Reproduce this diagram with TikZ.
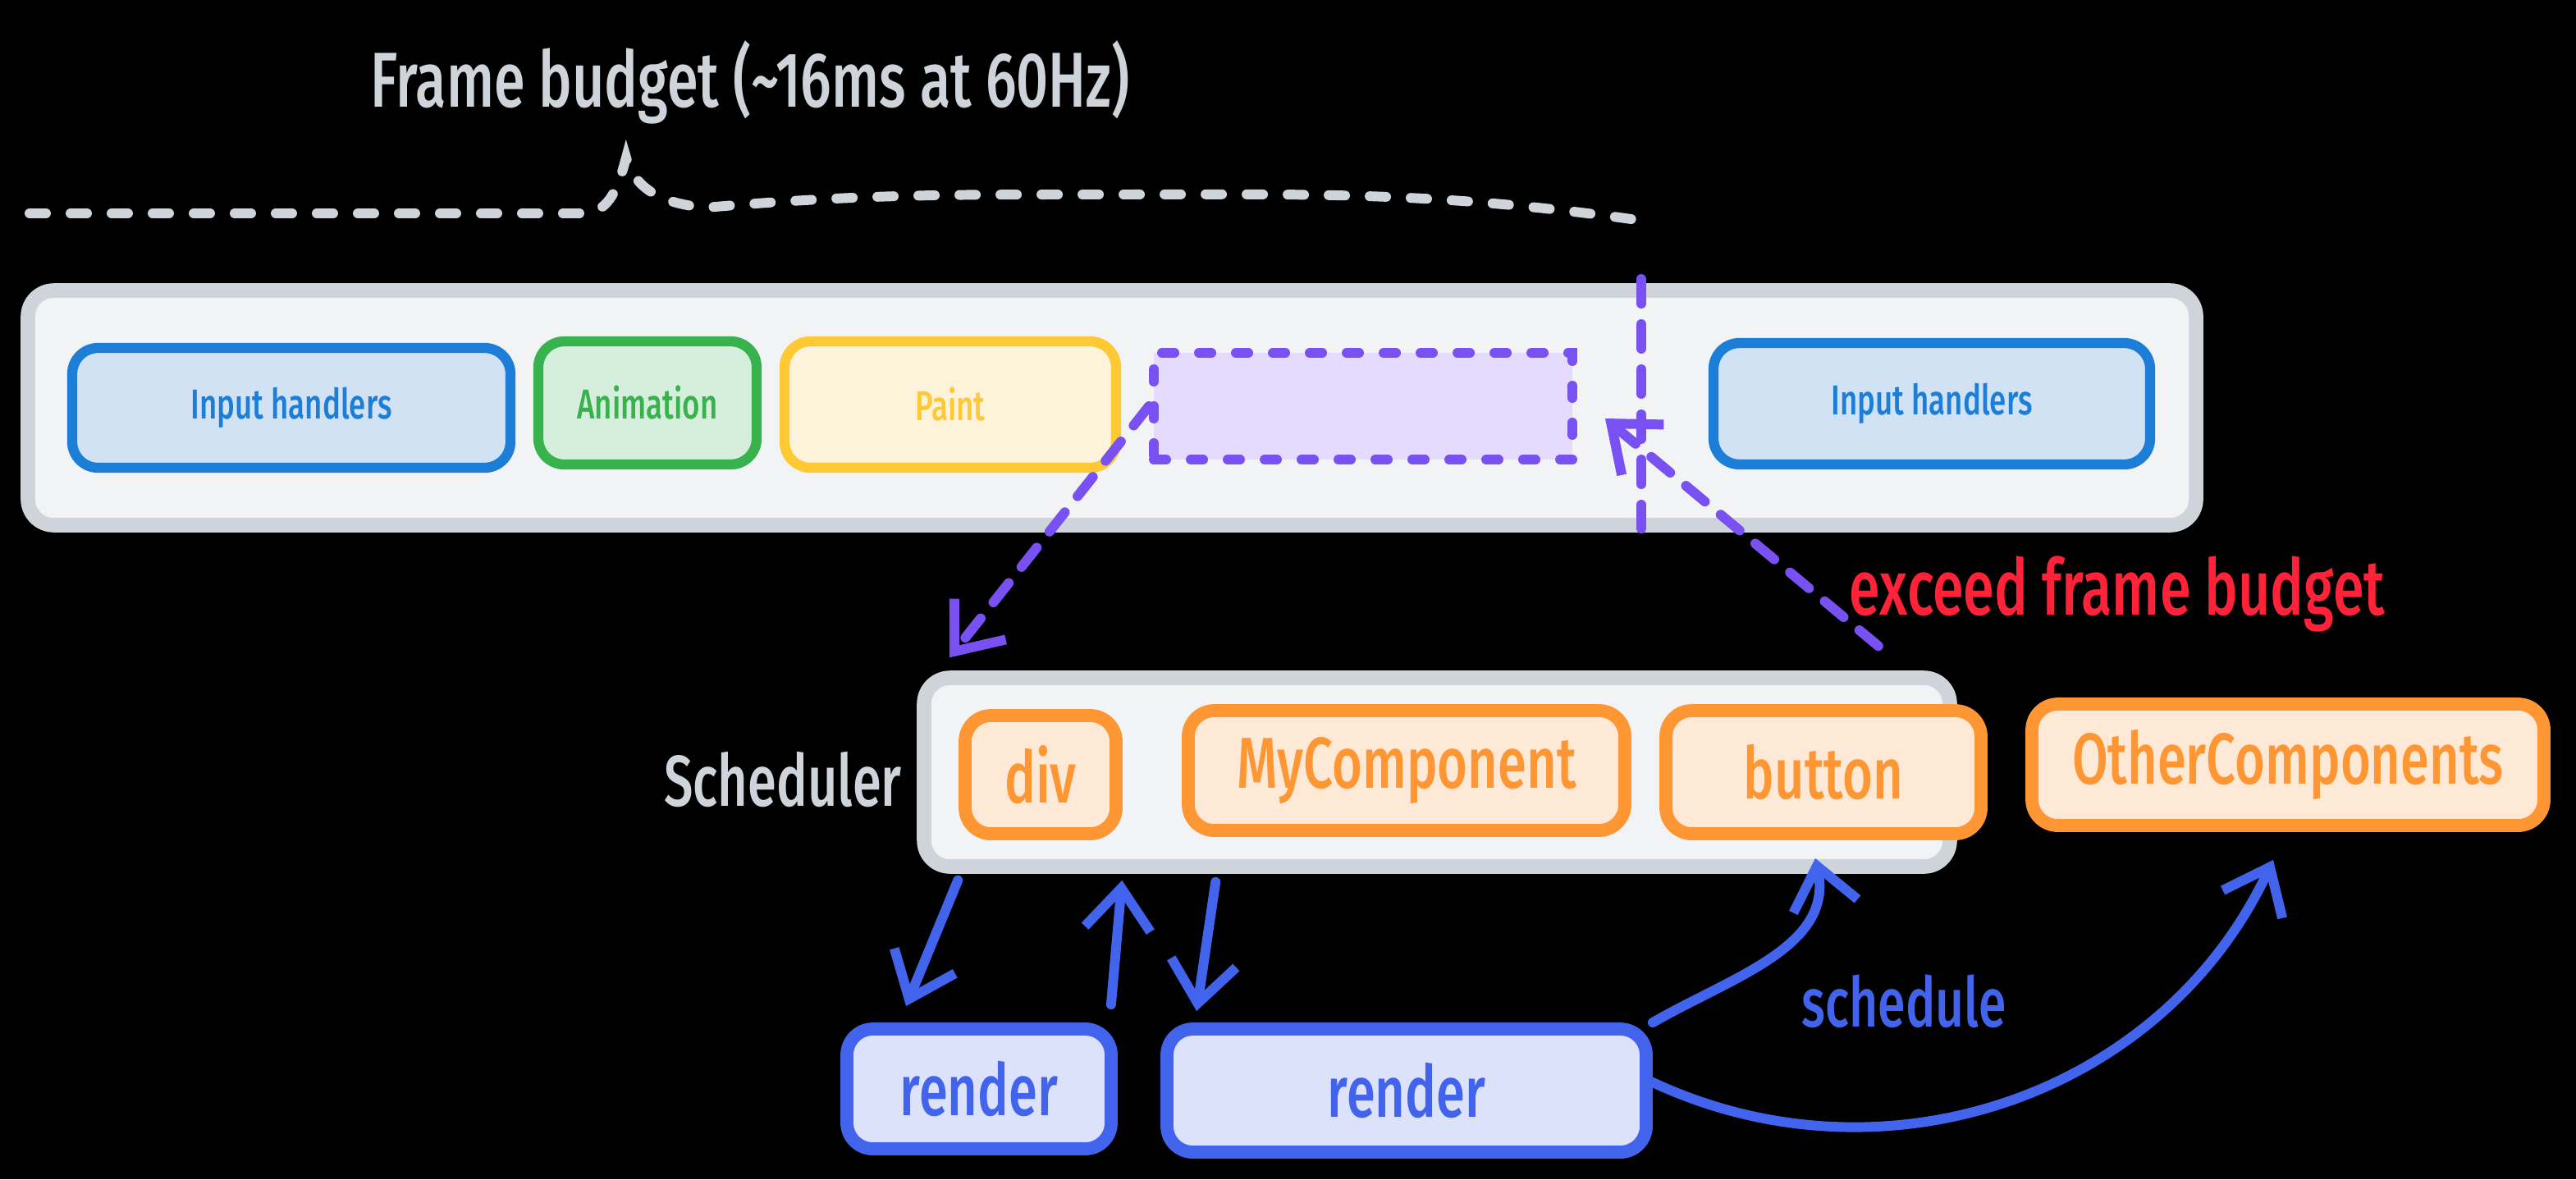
\documentclass[tikz,border=0pt]{standalone}
\usepackage{fontspec}
\setmainfont{Fira Sans Medium}[FakeStretch=0.72]
\usetikzlibrary{arrows.meta}
\definecolor{grayline}{HTML}{CED4DA}
\definecolor{grayfill}{HTML}{F1F3F5}
\definecolor{bluebox}{HTML}{1C7ED6}
\definecolor{bluefill}{HTML}{D0E2F4}
\definecolor{greenbox}{HTML}{37B24D}
\definecolor{greenfill}{HTML}{D6EFDD}
\definecolor{yellowbox}{HTML}{FFC933}
\definecolor{yellowfill}{HTML}{FDF3DA}
\definecolor{purplebox}{HTML}{7950F2}
\definecolor{purplefill}{HTML}{E5DBFF}
\definecolor{orangebox}{HTML}{FF9634}
\definecolor{orangefill}{HTML}{FDE9D6}
\definecolor{renderblue}{HTML}{4263EB}
\definecolor{renderfill}{HTML}{DBE2FA}
\definecolor{exceedred}{HTML}{FF2238}
\tikzset{
    box/.style={draw, rounded corners=9pt, line width=3.5pt, inner sep=0pt},
    lane/.style={box, draw=grayline, fill=grayfill, line width=5pt},
    small/.style={font=\fontsize{14.5}{17}\selectfont},
    big/.style={font=\fontsize{25}{30}\selectfont},
    handler/.style={box, draw=bluebox, fill=bluefill, text=bluebox, small},
    comp/.style={box, draw=orangebox, fill=orangefill, text=orangebox, big, line width=4.5pt},
    renderstep/.style={box, draw=renderblue, fill=renderfill, text=renderblue, big, line width=4.5pt},
    late/.style={purplebox, line width=3.4pt, line cap=round, dash pattern=on 0.3cm off 0.25cm},
    flow/.style={renderblue, line width=3.4pt, line cap=round, -{Straight Barb[length=5mm,width=8mm]}}
}
\begin{document}
\begin{tikzpicture}
        \useasboundingbox (0,0) rectangle (31.39,-14.37);
        \fill[black] (0,0) rectangle (31.39,-14.37);
        \node[text=grayline, font=\fontsize{27}{32}\selectfont] (title) at (9.14,-1.0) {Frame budget (\textasciitilde16ms at 60Hz)};
        \draw[grayline, line width=3.4pt, line cap=round, dash pattern=on 0.2cm off 0.3cm] (0.36,-2.6) -- (7.1,-2.6) to[out=0,in=-105] (7.63,-1.92) to[out=-75,in=175] (8.6,-2.53) to[out=5,in=180] (13.4,-2.37) to[out=0,in=172] (19.95,-2.68);
        \node[lane, minimum width=26.42cm, minimum height=2.86cm] (frame) at (13.55,-4.97) {};
        \node[handler, minimum width=5.34cm, minimum height=1.46cm] (input1) at (3.55,-4.97) {Input handlers};
        \node[box, draw=greenbox, fill=greenfill, text=greenbox, small, minimum width=2.66cm, minimum height=1.5cm] (anim) at (7.89,-4.91) {Animation};
        \node[box, draw=yellowbox, fill=yellowfill, text=yellowbox, small, minimum width=4.04cm, minimum height=1.54cm] (paint) at (11.58,-4.93) {Paint};
        \node[draw=purplebox, fill=purplefill, line width=3.4pt, line cap=round, dash pattern=on 0.15cm off 0.3cm, minimum width=5.1cm, minimum height=1.3cm] (slot) at (16.61,-4.95) {};
        \node[handler, minimum width=5.32cm, minimum height=1.48cm] (input2) at (23.54,-4.92) {Input handlers};
        \coordinate (limtop) at (20.0,-3.4);
        \coordinate (limbot) at (20.0,-6.44);
        \draw[late] (limtop) -- (limbot);
        \node[lane, minimum width=12.5cm, minimum height=2.3cm] (sched) at (17.51,-9.41) {};
        \node[text=grayline, big] (schedlabel) at (9.54,-9.5) {Scheduler};
        \node[comp, minimum width=1.84cm, minimum height=1.44cm] (div) at (12.68,-9.44) {div};
        \node[comp, minimum width=5.32cm, minimum height=1.46cm] (mycomp) at (17.14,-9.39) {MyComponent};
        \node[comp, minimum width=3.84cm, minimum height=1.5cm] (button) at (22.22,-9.41) {button};
        \node[comp, minimum width=6.24cm, minimum height=1.48cm] (others) at (27.88,-9.32) {OtherComponents};
        \node[renderstep, minimum width=3.22cm, minimum height=1.46cm] (render1) at (11.93,-13.27) {render};
        \node[renderstep, minimum width=5.84cm, minimum height=1.5cm] (render2) at (17.14,-13.29) {render};
        \node[text=exceedred, font=\fontsize{27}{32}\selectfont] (exceed) at (25.8,-7.24) {exceed frame budget};
        \node[text=renderblue, font=\fontsize{24}{28}\selectfont] (schedule) at (23.2,-12.2) {schedule};
        \draw[late, -{Straight Barb[length=5mm,width=8mm]}] (slot.west) -- ([xshift=0.4cm,yshift=0.16cm]sched.north west);
        \draw[late, -{Straight Barb[length=5mm,width=8mm]}] ([xshift=-0.96cm,yshift=0.3cm]sched.north east) -- ([xshift=0.34cm,yshift=-0.15cm]slot.east);
        \draw[flow] ([xshift=0.5cm,yshift=-0.08cm]sched.south west) -- ([xshift=0.8cm,yshift=0.2cm]render1.north west);
        \draw[flow] ([xshift=-0.08cm,yshift=0.22cm]render1.north east) -- ([xshift=2.5cm,yshift=-0.08cm]sched.south west);
        \draw[flow] ([xshift=3.64cm,yshift=-0.1cm]sched.south west) -- ([xshift=0.44cm,yshift=0.14cm]render2.north west);
        \draw[flow] (render2.north east) to[out=30,in=-78] ([xshift=-0.1cm,yshift=-0.22cm]button.south);
        \draw[flow] ([yshift=0.1cm]render2.east) to[out=-25,in=-115] ([xshift=-0.18cm,yshift=-0.34cm]others.south);
\end{tikzpicture}
\end{document}
